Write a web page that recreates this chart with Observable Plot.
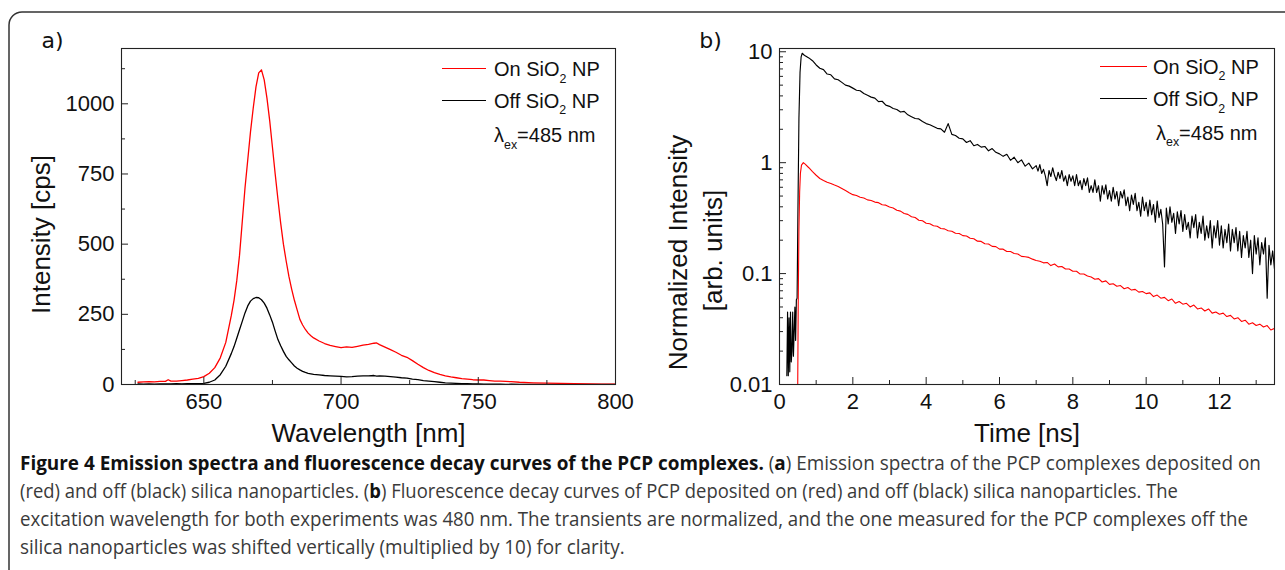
<!DOCTYPE html>
<html><head><meta charset="utf-8">
<script src="https://cdn.jsdelivr.net/npm/d3@7"></script>
<script src="https://cdn.jsdelivr.net/npm/@observablehq/plot@0.6"></script>
<style>
html,body{margin:0;padding:0;background:#fff;overflow:hidden;}
#root{position:relative;width:1285px;height:570px;overflow:hidden;font-family:"Liberation Sans",Arial,sans-serif;}
.panel{position:absolute;top:0;}
.leg{position:absolute;font-size:20px;line-height:20px;white-space:nowrap;color:#111;}
.leg sub{font-size:0.62em;position:relative;top:0.55em;vertical-align:baseline;}
.sw{position:absolute;height:0;border-top:1.4px solid;}
.cap{position:absolute;left:20px;width:max-content;white-space:nowrap;font-family:"Open Sans",sans-serif;font-size:19.5px;line-height:26px;color:#3a3a3a;transform-origin:0 50%;}
.cap b{color:#111;font-weight:700;}
</style></head><body><div id="root"></div>
<script>
// ---------- Panel a: emission spectra ----------
const wavelength = [626,628,630,632,634,636,637,638,640,642,
  644,646,648,650,652,654,656,658,660,661,
  662,663,664,665,666,667,668,669,670,671,
  672,673,674,675,676,677,678,679,680,681,
  682,683,684,685,686,687,688,689,690,692,
  694,696,698,700,702,704,706,708,710,712,
  713,714,716,718,720,722,724,726,728,730,
  732,734,736,738,740,742,744,746,748,750,
  752,754,756,758,760,762,765,770,775,780,
  785,790,795,800];
const spectrumOn = [8,9,10,9,11,11,17,12,12,14,
  16,19,22,28,40,60,95,150,245,300,
  370,460,580,700,800,900,985,1060,1110,1121,
  1085,1020,940,845,750,660,575,500,440,385,
  340,300,266,232,212,196,183,174,166,155,
  146,139,135,131,134,132,136,140,143,147,
  148,142,133,124,115,104,97,85,72,60,
  50,42,36,31,27,24,21,19,17,16,
  16,14,12,12,11,10,8,6,5,4,
  3,2,1,1];
const spectrumOff = [2,1,2,1,2,2,2,2,3,2,
  3,3,3,4,8,16,35,65,110,135,
  165,195,225,255,280,297,306,310,309,302,
  290,272,248,222,190,160,138,118,100,88,
  77,66,58,52,47,43,40,38,36,34,
  32,31,30,29,27,28,30,31,31,32,
  30,31,30,28,26,24,23,19,17,14,
  12,10,8,6,5,4,3,3,2,2,
  1,1,1,1,0,1,0,0,0,0,
  0,0,0,0];
const xTicksA = [650,700,750,800];
const xMinorA = [625,675,725,775];
const yTicksA = [0,250,500,750,1000];
const yMinorA = [125,375,625,875,1125];

// ---------- Panel b: fluorescence decay ----------
const riseTimeOn = [0.49,0.51,0.53,0.55,0.57,0.60,0.65];
const riseOn = [0.004,0.05,0.25,0.55,0.8,0.95,1.0];
const riseTimeOff = [0.20,0.22,0.24,0.26,0.28,0.30,0.32,0.34,0.36,0.38,0.40,0.42,0.44,0.46,0.48,0.50,0.53,0.56,0.59,0.62,0.66];
const riseOff = [0.012,0.045,0.012,0.04,0.013,0.045,0.016,0.02,0.045,0.018,0.03,0.05,0.025,0.058,0.06,0.3,2.5,6.5,9.0,9.7,9.4];
const earlyTime = [0.7,0.8,0.9,1.0,1.1,1.2,1.3,1.4,1.5,1.6,
  1.7,1.8,1.9,2.0,2.1,2.2,2.3,2.4,2.5,2.6,
  2.7,2.8,2.9,3.0,3.1,3.2,3.3,3.4,3.5,3.6,
  3.7,3.8,3.9,4.0,4.1,4.2,4.3,4.4,4.5,4.6,
  4.7,4.8,4.9,5.0,5.1,5.2,5.3,5.4,5.5,5.6,
  5.7,5.8,5.9,6.0,6.1,6.2,6.3,6.4,6.5,6.6,
  6.7,6.8,6.9];
const earlyOn = [.97,.90,.83,.77,.72,.69,.665,.648,.628,.61,
  .585,.56,.535,.515,.505,.488,.480,.462,.456,.441,
  .436,.418,.414,.398,.390,.372,.366,.348,.342,.325,
  .320,.303,.299,.284,.281,.270,.267,.255,.253,.243,
  .241,.231,.230,.220,.218,.208,.206,.196,.195,.186,
  .185,.176,.175,.166,.166,.158,.158,.152,.150,.143,
  .142,.140,.135];
const earlyOff = [9.2,8.8,8.3,7.6,7.1,6.9,6.3,6.2,5.7,5.6,
  5.3,5.0,4.9,4.7,4.5,4.45,4.2,4.05,3.9,3.82,
  3.55,3.58,3.30,3.22,3.08,3.02,2.86,2.90,2.70,2.60,
  2.50,2.48,2.35,2.25,2.20,2.12,2.04,2.02,1.88,2.25,
  1.80,1.76,1.66,1.64,1.52,1.58,1.42,1.46,1.38,1.40,
  1.28,1.34,1.24,1.20,1.14,1.19,1.05,1.12,1.00,1.06,
  0.93,0.99,0.88];
const lateTimeOn = [7.0,7.1,7.2,7.3,7.4,7.5,7.6,7.7,7.8,7.9,
  8.0,8.1,8.2,8.3,8.4,8.5,8.6,8.7,8.8,8.9,
  9.0,9.1,9.2,9.3,9.4,9.5,9.6,9.7,9.8,9.9,
  10.0,10.1,10.2,10.3,10.4,10.5,10.6,10.7,10.8,10.9,
  11.0,11.1,11.2,11.3,11.4,11.5,11.6,11.7,11.8,11.9,
  12.0,12.1,12.2,12.3,12.4,12.5,12.6,12.7,12.8,12.9,
  13.0,13.1,13.2,13.3,13.4,13.5];
const lateOn = [.131,.129,.125,.126,.118,.122,.115,.116,.110,.110,
  .105,.105,.099,.099,.095,.093,.089,.090,.084,.086,
  .080,.081,.077,.078,.073,.075,.071,.072,.068,.069,
  .066,.067,.062,.064,.060,.061,.057,.059,.054,.056,
  .053,.054,.050,.052,.048,.049,.046,.048,.044,.045,
  .043,.044,.041,.042,.039,.040,.037,.038,.035,.036,
  .034,.035,.033,.034,.031,.032];
const lateTimeOff = [7.00,7.05,7.10,7.15,7.20,7.25,7.30,7.35,7.40,7.45,
  7.50,7.55,7.60,7.65,7.70,7.75,7.80,7.85,7.90,7.95,
  8.00,8.05,8.10,8.15,8.20,8.25,8.30,8.35,8.40,8.45,
  8.50,8.55,8.60,8.65,8.70,8.75,8.80,8.85,8.90,8.95,
  9.00,9.05,9.10,9.15,9.20,9.25,9.30,9.35,9.40,9.45,
  9.50,9.55,9.60,9.65,9.70,9.75,9.80,9.85,9.90,9.95,
  10.00,10.05,10.10,10.15,10.20,10.25,10.30,10.35,10.40,10.45,
  10.50,10.55,10.60,10.65,10.70,10.75,10.80,10.85,10.90,10.95,
  11.00,11.05,11.10,11.15,11.20,11.25,11.30,11.35,11.40,11.45,
  11.50,11.55,11.60,11.65,11.70,11.75,11.80,11.85,11.90,11.95,
  12.00,12.05,12.10,12.15,12.20,12.25,12.30,12.35,12.40,12.45,
  12.50,12.55,12.60,12.65,12.70,12.75,12.80,12.85,12.90,12.95,
  13.00,13.05,13.10,13.15,13.20,13.25,13.30,13.35,13.40,13.45,13.50];
const lateOff = [.94,.84,.96,.80,.87,.76,.62,.85,.75,.90,
  .77,.69,.82,.72,.85,.68,.76,.62,.78,.68,
  .76,.62,.78,.62,.69,.57,.72,.62,.73,.54,
  .62,.54,.70,.54,.62,.45,.62,.52,.63,.47,
  .56,.45,.60,.47,.55,.41,.55,.48,.57,.41,
  .49,.37,.51,.42,.53,.37,.44,.33,.49,.37,
  .44,.33,.46,.34,.42,.29,.45,.32,.38,.28,
  .115,.39,.28,.40,.29,.35,.23,.36,.28,.37,
  .24,.34,.25,.29,.21,.33,.26,.34,.21,.29,
  .23,.33,.20,.27,.21,.30,.17,.27,.21,.30,
  .18,.27,.17,.25,.19,.28,.16,.25,.19,.26,
  .16,.24,.14,.22,.17,.24,.14,.20,.10,.22,
  .15,.21,.12,.19,.15,.21,.06,.18,.12,.16,.11];
const xTicksB = [0,2,4,6,8,10,12];
const xMinorB = [1,3,5,7,9,11,13];
const yTicksB = [0.01,0.1,1,10];
const yMinorB = [0.02,0.03,0.04,0.05,0.06,0.07,0.08,0.09,0.2,0.3,0.4,0.5,0.6,0.7,0.8,0.9,2,3,4,5,6,7,8,9];

const legendLabels = ["On SiO", "Off SiO"];
const seriesColors = ["#ff0000", "#000000"];
const captionLines = [
  [["Figure 4 Emission spectra and fluorescence decay curves of the PCP complexes.",1],[" (",0],["a",1],[") Emission spectra of the PCP complexes deposited on",0]],
  [["(red) and off (black) silica nanoparticles. (",0],["b",1],[") Fluorescence decay curves of PCP deposited on (red) and off (black) silica nanoparticles. The",0]],
  [["excitation wavelength for both experiments was 480 nm. The transients are normalized, and the one measured for the PCP complexes off the",0]],
  [["silica nanoparticles was shifted vertically (multiplied by 10) for clarity.",0]]
];
const captionWidths = [1241, 1158, 1228, 605];
const captionCenters = [463, 491, 519, 547];

const FONT = "Liberation Sans, Arial, sans-serif";
const root = document.getElementById("root");
const title = (txt, o) => Plot.text([txt], {fontSize: 26, fill: "#111", textAnchor: "middle", lineAnchor: "middle", ...o});

const specOn = wavelength.map((w,i)=>({w, v: spectrumOn[i]}));
const specOff = wavelength.map((w,i)=>({w, v: spectrumOff[i]}));

const plotA = Plot.plot({
  width: 640, height: 450,
  marginLeft: 121, marginRight: 25, marginTop: 48, marginBottom: 66,
  x: {domain: [620, 800], label: null},
  y: {domain: [0, 1197], label: null},
  style: {fontFamily: FONT, fontSize: "22px", color: "#111", background: "transparent", overflow: "visible"},
  marks: [
    Plot.line(specOff, {x: "w", y: "v", stroke: seriesColors[1], strokeWidth: 1.3, clip: true}),
    Plot.line(specOn, {x: "w", y: "v", stroke: seriesColors[0], strokeWidth: 1.3, clip: true}),
    Plot.frame({stroke: "#222", strokeWidth: 1.1}),
    Plot.axisX({ticks: xTicksA, tickSize: 0, tickPadding: 9, fontSize: 22, tickFormat: d => String(d), label: null}),
    Plot.axisX({ticks: xTicksA, tickSize: 7, dy: -7, tickFormat: () => "", label: null, stroke: "#222"}),
    Plot.axisX({ticks: xMinorA, tickSize: 4, dy: -4, tickFormat: () => "", label: null, stroke: "#222"}),
    Plot.axisY({ticks: yTicksA, tickSize: 0, tickPadding: 7, fontSize: 22, tickFormat: d => String(d), label: null}),
    Plot.axisY({ticks: yTicksA, tickSize: 7, dx: 7, tickFormat: () => "", label: null, stroke: "#222"}),
    Plot.axisY({ticks: yMinorA, tickSize: 4, dx: 4, tickFormat: () => "", label: null, stroke: "#222"}),
    title("Wavelength [nm]", {frameAnchor: "bottom", dy: 49}),
    title("Intensity [cps]", {frameAnchor: "left", rotate: -90, dx: -80, dy: 18}),
    title("a)", {frameAnchor: "top-left", dx: -69, dy: -8, fontSize: 22, fontFamily: "DejaVu Sans"})
  ]
});
plotA.classList.add("panel");
plotA.style.left = "0px";
root.appendChild(plotA);

const decOn = riseTimeOn.map((t,i)=>({t, v: riseOn[i]}))
  .concat(earlyTime.map((t,i)=>({t, v: earlyOn[i]})))
  .concat(lateTimeOn.map((t,i)=>({t, v: lateOn[i]})));
const decOff = riseTimeOff.map((t,i)=>({t, v: riseOff[i]}))
  .concat(earlyTime.map((t,i)=>({t, v: earlyOff[i]})))
  .concat(lateTimeOff.map((t,i)=>({t, v: lateOff[i]})));

const plotB = Plot.plot({
  width: 635, height: 450,
  marginLeft: 129, marginRight: 11, marginTop: 48, marginBottom: 66,
  x: {domain: [0, 13.5], label: null},
  y: {type: "log", domain: [0.01, 10.7], label: null},
  style: {fontFamily: FONT, fontSize: "22px", color: "#111", background: "transparent", overflow: "visible"},
  marks: [
    Plot.line(decOff, {x: "t", y: "v", stroke: seriesColors[1], strokeWidth: 1.15, clip: true}),
    Plot.line(decOn, {x: "t", y: "v", stroke: seriesColors[0], strokeWidth: 1.1, clip: true}),
    Plot.frame({stroke: "#222", strokeWidth: 1.1}),
    Plot.axisX({ticks: xTicksB, tickSize: 0, tickPadding: 9, fontSize: 22, tickFormat: d => String(d), label: null}),
    Plot.axisX({ticks: xTicksB, tickSize: 7, dy: -7, tickFormat: () => "", label: null, stroke: "#222"}),
    Plot.axisX({ticks: xMinorB, tickSize: 4, dy: -4, tickFormat: () => "", label: null, stroke: "#222"}),
    Plot.axisY({ticks: yTicksB, tickSize: 0, tickPadding: 7, fontSize: 22, tickFormat: d => String(d), label: null}),
    Plot.axisY({ticks: yTicksB, tickSize: 7, dx: 7, tickFormat: () => "", label: null, stroke: "#222"}),
    Plot.axisY({ticks: yMinorB, tickSize: 4, dx: 4, tickFormat: () => "", label: null, stroke: "#222"}),
    title("Time [ns]", {frameAnchor: "bottom", dy: 49}),
    title("Normalized Intensity", {frameAnchor: "left", rotate: -90, dx: -101, dy: 36}),
    title("[arb. units]", {frameAnchor: "left", rotate: -90, dx: -66, dy: 34}),
    title("b)", {frameAnchor: "top-left", dx: -69, dy: -8, fontSize: 22, fontFamily: "DejaVu Sans"})
  ]
});
plotB.classList.add("panel");
plotB.style.left = "650px";
root.appendChild(plotB);

// ---------- Legends ----------
function legend(swLeft, swWidth, textLeft, lamLeft, y0, y1, y2) {
  [y0, y1].forEach((y, i) => {
    const sw = document.createElement("div");
    sw.className = "sw";
    sw.style.left = swLeft + "px"; sw.style.width = swWidth + "px";
    sw.style.top = (y - 0.7) + "px"; sw.style.borderColor = seriesColors[i];
    root.appendChild(sw);
    const t = document.createElement("div");
    t.className = "leg";
    t.style.left = textLeft + "px"; t.style.top = (y - 10) + "px";
    t.innerHTML = legendLabels[i] + "<sub>2</sub> NP";
    root.appendChild(t);
  });
  const l = document.createElement("div");
  l.className = "leg";
  l.style.left = lamLeft + "px"; l.style.top = (y2 - 10) + "px";
  l.innerHTML = "λ<sub>ex</sub>=485 nm";
  root.appendChild(l);
}
legend(442, 44, 494, 494, 69, 100.5, 135);
legend(1100, 47, 1153, 1156, 66.5, 99, 132.5);

// ---------- Border ----------
const svg = d3.select(root).append("svg")
  .attr("width", 1285).attr("height", 570)
  .style("position", "absolute").style("left", "0px").style("top", "0px")
  .style("pointer-events", "none");
svg.append("rect").attr("x", 9).attr("y", 12).attr("width", 1330).attr("height", 640)
  .attr("rx", 13).attr("fill", "none").attr("stroke", "#333").attr("stroke-width", 1.5);

// ---------- Caption (condensed to the reference line widths) ----------
captionLines.forEach((segs, i) => {
  const d = document.createElement("div");
  d.className = "cap";
  d.style.top = (captionCenters[i] - 13) + "px";
  segs.forEach(([s, b]) => {
    const el = document.createElement(b ? "b" : "span");
    el.textContent = s;
    d.appendChild(el);
  });
  root.appendChild(d);
  const natural = d.offsetWidth;
  d.style.transform = "scaleX(" + (captionWidths[i] / natural) + ")";
});
</script></body></html>
